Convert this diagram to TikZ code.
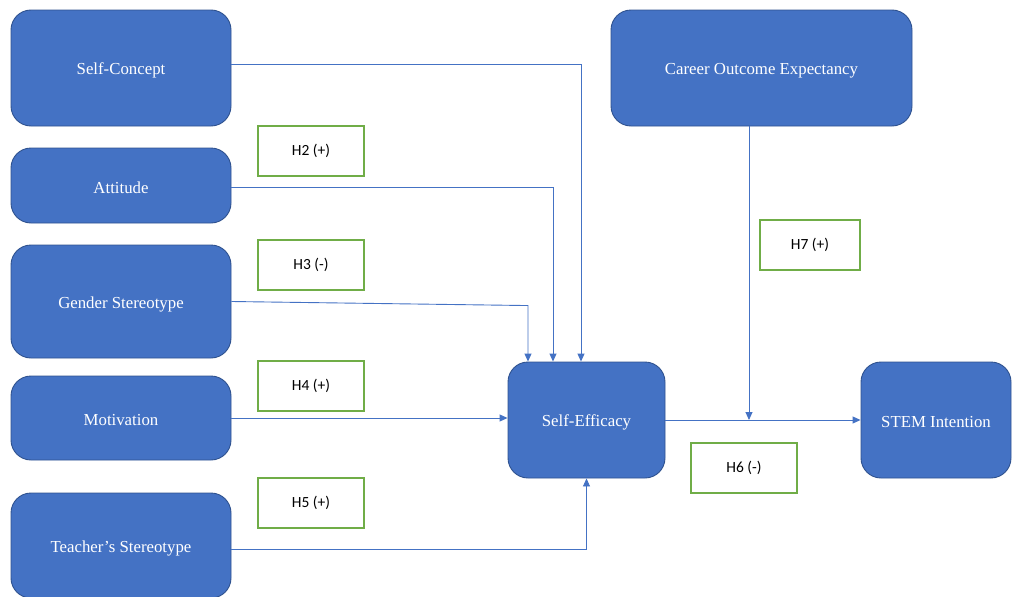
\documentclass[tikz,border=0pt]{standalone}
\usepackage{fontspec}
\setmainfont{Liberation Serif}
\newfontfamily\hfont{Carlito}
\usetikzlibrary{arrows.meta,positioning}
\definecolor{boxblue}{HTML}{4472C4}
\definecolor{boxedge}{HTML}{2F528F}
\definecolor{hgreen}{HTML}{70AD47}
\tikzstyle{construct} = [draw=boxedge, fill=boxblue, line width=0.9pt, rectangle, rounded corners=20pt, text=white, font=\fontsize{16.8}{20}\selectfont, inner sep=0pt]
\tikzstyle{hypo} = [draw=hgreen, fill=white, line width=1.3pt, rectangle, minimum width=106pt, minimum height=50pt, text=black, font=\hfont\fontsize{15.5}{18}\selectfont]
\tikzstyle{link} = [draw=boxblue, line width=0.9pt, -{Triangle[length=8pt,width=7pt]}]
\newcommand{\cbox}[5]{\node[construct, minimum width=#3pt, minimum height=#4pt] (#1) at #2 {\raisebox{-2.5pt}[\height][\depth]{#5}};}

\begin{document}
\begin{tikzpicture}[x=1pt,y=-1pt]
\useasboundingbox (0,0) rectangle (1012,597);
\clip (0,0) rectangle (1012,597);
% constructs
\cbox{selfconcept}{(121,68)}{220}{116}{Self-Concept}
\cbox{attitude}{(121,185.5)}{220}{75}{Attitude}
\cbox{gender}{(121,301.5)}{220}{113}{Gender Stereotype}
\cbox{motivation}{(121,418)}{220}{84}{Motivation}
\cbox{teacher}{(121,545.5)}{220}{105}{Teacher’s Stereotype}
\cbox{efficacy}{(586.5,420)}{157}{116}{Self-Efficacy}
\cbox{stem}{(936,420)}{150}{116}{STEM Intention}
\cbox{career}{(761.5,68)}{301}{116}{Career Outcome Expectancy}
% hypotheses
\node[hypo] (h2) at (311,151) {H2 (+)};
\node[hypo] (h3) at (311,265) {H3 (-)};
\node[hypo] (h4) at (311,386) {H4 (+)};
\node[hypo] (h5) at (311,503) {H5 (+)};
\node[hypo, minimum width=100pt] (h7) at (810,245) {H7 (+)};
\node[hypo] (h6) at (744,468) {H6 (-)};
% paths
\draw[link] ([yshift=4pt]selfconcept.east) -| ([xshift=-5.5pt]efficacy.north);
\draw[link] ([yshift=-1.5pt]attitude.east) -| ([xshift=-33.5pt]efficacy.north);
\coordinate (gbend) at ([xshift=-58.5pt,yshift=56pt]efficacy.north);
\draw[link] (gender.east) -- (gbend) -- ([xshift=-58.5pt]efficacy.north);
\draw[link] (motivation.east) -- (motivation.east -| efficacy.west);
\draw[link] ([yshift=-3.5pt]teacher.east) -| (efficacy.south);
\draw[link] (efficacy.east) -- (stem.west);
\coordinate (moderate) at ([xshift=-12.5pt]career.south |- efficacy.east);
\draw[link] ([xshift=-12.5pt]career.south) -- (moderate);
\end{tikzpicture}
\end{document}
